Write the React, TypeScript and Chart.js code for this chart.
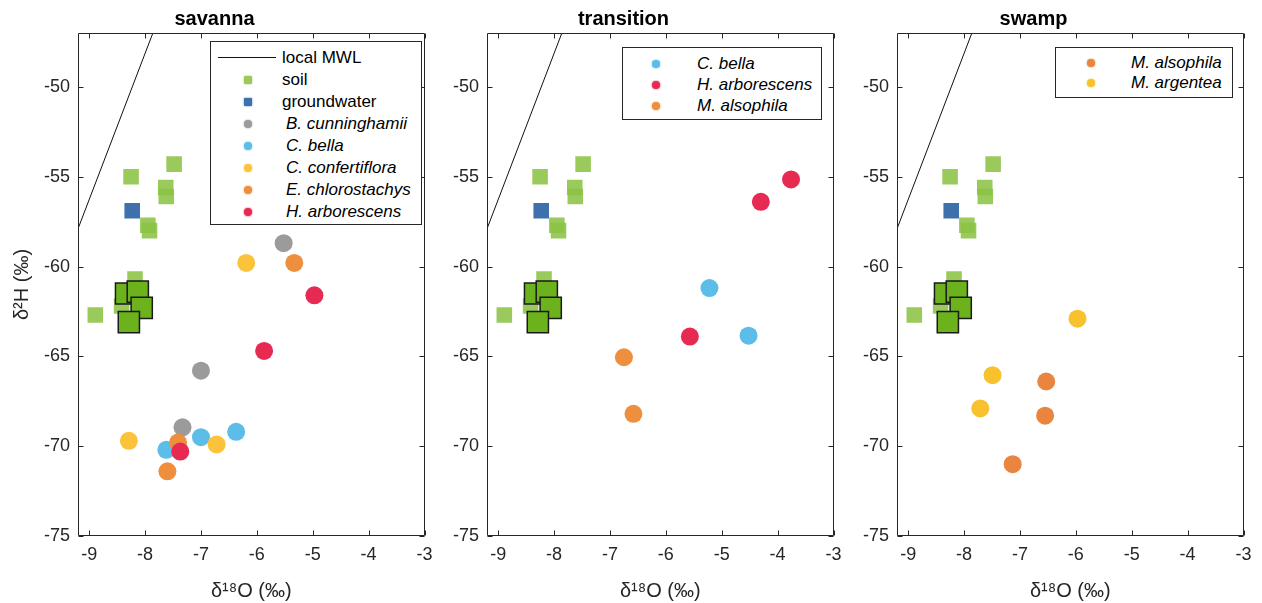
import React, { useEffect, useRef } from "react";
import { Chart, registerables } from "chart.js";

Chart.register(...registerables);

// ---------- axes ----------
const X_MIN = -9.2;
const X_MAX = -3;
const Y_MIN = -75;
const Y_MAX = -47;
const xTicks = [-9, -8, -7, -6, -5, -4, -3];
const yTicks = [-75, -70, -65, -60, -55, -50];

// ---------- local meteoric water line ----------
const mwlX = [-9.2, -7.86];
const mwlY = [-57.9, -47];

// ---------- shared soil / groundwater ----------
const soilX = [-8.25, -7.48, -7.63, -7.62, -7.95, -7.92, -8.18, -8.89, -8.42];
const soilY = [-55.0, -54.3, -55.6, -56.1, -57.7, -58.0, -60.7, -62.7, -62.2];
const soilDeepX = [-8.34, -8.13, -8.06, -8.29];
const soilDeepY = [-61.5, -61.4, -62.3, -63.1];
const gwX = [-8.23];
const gwY = [-56.9];

// ---------- savanna ----------
const savBcX = [-5.52, -7.0, -7.33];
const savBcY = [-58.7, -65.8, -68.95];
const savCbX = [-7.0, -6.37, -7.62];
const savCbY = [-69.5, -69.2, -70.2];
const savCcX = [-6.19, -8.29, -6.72];
const savCcY = [-59.8, -69.7, -69.9];
const savEcX = [-5.33, -7.6, -7.41];
const savEcY = [-59.8, -71.4, -69.8];
const savHaX = [-4.97, -5.87, -7.37];
const savHaY = [-61.6, -64.7, -70.3];

// ---------- transition ----------
const traCbX = [-5.22, -4.52];
const traCbY = [-61.2, -63.85];
const traHaX = [-5.57, -4.3, -3.76];
const traHaY = [-63.9, -56.4, -55.15];
const traMaX = [-6.75, -6.58];
const traMaY = [-65.05, -68.2];

// ---------- swamp ----------
const swaMaX = [-6.53, -6.55, -7.13];
const swaMaY = [-66.4, -68.3, -71.0];
const swaMgX = [-5.97, -7.49, -7.71];
const swaMgY = [-62.9, -66.05, -67.9];

// ---------- colours ----------
const C_SOIL = "rgba(140,195,70,0.88)";
const C_SOIL_DEEP = "#6cb21d";
const C_GW = "#3e70ab";
const C_GRAY = "#9b9b9b";
const C_BLUE = "#5cbde8";
const C_YELLOW = "#fbc33c";
const C_ORANGE = "#ee8f3e";
const C_RED = "#e72a52";
const C_ORANGE3 = "#e9853f";
const C_YELLOW3 = "#f8c22f";

const FONT = "'Liberation Sans', Arial, Helvetica, sans-serif";
const AXIS = "#262626";

const PLOT_W = 351;
const Y_AXIS_W = 78;
const RIGHT_PAD = 12;
const H = 603;

type Series = {
  xs: number[];
  ys: number[];
  color: string;
  style: "circle" | "rect";
  radius: number;
  border?: string;
};

const pts = (xs: number[], ys: number[]) => xs.map((x, i) => ({ x, y: ys[i] }));

const boxPlugin = {
  id: "matlabBox",
  afterDatasetsDraw(chart: any) {
    const { ctx, chartArea: a, scales } = chart;
    ctx.save();
    ctx.strokeStyle = AXIS;
    ctx.lineWidth = 1;
    const l = Math.round(a.left) + 0.5;
    const r = Math.round(a.right) - 0.5;
    const t = Math.round(a.top) + 0.5;
    const b = Math.round(a.bottom) - 0.5;
    ctx.beginPath();
    ctx.rect(l, t, r - l, b - t);
    const tl = 5;
    xTicks.forEach((v) => {
      const px = Math.round(scales.x.getPixelForValue(v)) + 0.5;
      ctx.moveTo(px, b);
      ctx.lineTo(px, b - tl);
      ctx.moveTo(px, t);
      ctx.lineTo(px, t + tl);
    });
    yTicks.forEach((v) => {
      const py = Math.round(scales.y.getPixelForValue(v)) + 0.5;
      ctx.moveTo(l, py);
      ctx.lineTo(l + tl, py);
      ctx.moveTo(r, py);
      ctx.lineTo(r - tl, py);
    });
    ctx.stroke();
    ctx.restore();
  },
};

type LegendItem = { label: string; color?: string; kind: "line" | "circle" | "rect"; italic: boolean };

type PanelProps = {
  plotLeft: number;
  title: string;
  series: Series[];
  yTitle: boolean;
};

function Panel({ plotLeft, title, series, yTitle }: PanelProps) {
  const ref = useRef<HTMLCanvasElement | null>(null);
  const width = Y_AXIS_W + PLOT_W + RIGHT_PAD;
  useEffect(() => {
    if (!ref.current) return;
    const datasets: any[] = [
      {
        type: "line",
        data: pts(mwlX, mwlY),
        borderColor: "#111",
        borderWidth: 1,
        pointRadius: 0,
        fill: false,
        order: 1000,
      },
    ];
    series.forEach((s, i) => {
      datasets.push({
        type: "scatter",
        data: pts(s.xs, s.ys),
        backgroundColor: s.color,
        borderColor: s.border || s.color,
        borderWidth: s.border ? 1.5 : 0,
        pointStyle: s.style,
        pointRadius: s.radius,
        pointHoverRadius: s.radius,
        order: 900 - i,
      });
    });
    const tickFont = { family: FONT, size: 18 };
    const chart = new Chart(ref.current, {
      type: "scatter",
      data: { datasets },
      plugins: [boxPlugin],
      options: {
        animation: false,
        responsive: false,
        devicePixelRatio: 1,
        layout: { padding: { left: 0, right: RIGHT_PAD, top: 0, bottom: 0 } },
        plugins: {
          legend: { display: false },
          tooltip: { enabled: false },
          title: {
            display: true,
            text: title,
            color: "#000",
            font: { family: FONT, size: 20, weight: "bold" },
            padding: { top: 7, bottom: 2 },
          },
        },
        scales: {
          x: {
            type: "linear",
            min: X_MIN,
            max: X_MAX,
            afterBuildTicks: (s: any) => {
              s.ticks = xTicks.map((v) => ({ value: v }));
            },
            afterFit: (s: any) => {
              s.height = 67;
            },
            grid: { display: false, drawTicks: false },
            border: { display: false },
            ticks: { padding: 8, color: AXIS, font: tickFont, maxRotation: 0, autoSkip: false },
            title: {
              display: true,
              text: "δ¹⁸O (‰)",
              color: AXIS,
              font: { family: FONT, size: 20 },
              padding: { top: 0, bottom: 0 },
            },
          },
          y: {
            type: "linear",
            min: Y_MIN,
            max: Y_MAX,
            afterBuildTicks: (s: any) => {
              s.ticks = yTicks.map((v) => ({ value: v }));
            },
            afterFit: (s: any) => {
              s.width = Y_AXIS_W;
            },
            grid: { display: false, drawTicks: false },
            border: { display: false },
            ticks: { padding: 8, color: AXIS, font: tickFont, autoSkip: false },
            title: {
              display: yTitle,
              text: "δ²H (‰)",
              color: AXIS,
              font: { family: FONT, size: 20 },
              padding: { top: 10, bottom: 0 },
            },
          },
        },
      } as any,
    });
    return () => chart.destroy();
  }, []);
  return (
    <canvas
      ref={ref}
      width={width}
      height={H}
      style={{ position: "absolute", left: plotLeft - Y_AXIS_W, top: 0, width, height: H }}
    />
  );
}

type LegendProps = {
  left: number;
  top: number;
  width: number;
  height: number;
  padTop: number;
  rowH: number;
  markerX: number;
  textX: number;
  items: LegendItem[];
};

function Legend({ left, top, width, height, padTop, rowH, markerX, textX, items }: LegendProps) {
  return (
    <div
      style={{
        position: "absolute",
        left,
        top,
        width,
        height,
        border: `1px solid ${AXIS}`,
        background: "#fff",
        boxSizing: "border-box",
        fontFamily: FONT,
        fontSize: 17,
        color: "#000",
      }}
    >
      {items.map((it, i) => {
        const cy = padTop + i * rowH + rowH / 2;
        return (
          <React.Fragment key={i}>
            {it.kind === "line" ? (
              <div
                style={{
                  position: "absolute",
                  left: markerX - 30,
                  width: 58,
                  top: cy - 1,
                  height: 0,
                  borderTop: "1px solid #111",
                }}
              />
            ) : (
              <div
                style={{
                  position: "absolute",
                  left: markerX - 4,
                  top: cy - 4,
                  width: 8,
                  height: 8,
                  borderRadius: it.kind === "circle" ? "50%" : 1,
                  background: it.color,
                  boxShadow: `0 0 2px ${it.color}`,
                }}
              />
            )}
            <div
              style={{
                position: "absolute",
                left: textX + (it.italic ? 4 : 0),
                top: cy - rowH / 2,
                height: rowH,
                lineHeight: `${rowH}px`,
                fontStyle: it.italic ? "italic" : "normal",
                whiteSpace: "nowrap",
              }}
            >
              {it.label}
            </div>
          </React.Fragment>
        );
      })}
    </div>
  );
}

const soilSeries: Series[] = [
  { xs: soilX, ys: soilY, color: C_SOIL, style: "rect", radius: 11 },
  { xs: gwX, ys: gwY, color: C_GW, style: "rect", radius: 11 },
];
const soilDeepSeries: Series = {
  xs: soilDeepX,
  ys: soilDeepY,
  color: C_SOIL_DEEP,
  style: "rect",
  radius: 15,
  border: "#1a1a1a",
};

const savannaSeries: Series[] = [
  ...soilSeries,
  { xs: savBcX, ys: savBcY, color: C_GRAY, style: "circle", radius: 9 },
  { xs: savCbX, ys: savCbY, color: C_BLUE, style: "circle", radius: 9 },
  { xs: savCcX, ys: savCcY, color: C_YELLOW, style: "circle", radius: 9 },
  { xs: savEcX, ys: savEcY, color: C_ORANGE, style: "circle", radius: 9 },
  { xs: savHaX, ys: savHaY, color: C_RED, style: "circle", radius: 9 },
  soilDeepSeries,
];
const transitionSeries: Series[] = [
  ...soilSeries,
  { xs: traCbX, ys: traCbY, color: C_BLUE, style: "circle", radius: 9 },
  { xs: traHaX, ys: traHaY, color: C_RED, style: "circle", radius: 9 },
  { xs: traMaX, ys: traMaY, color: C_ORANGE, style: "circle", radius: 9 },
  soilDeepSeries,
];
const swampSeries: Series[] = [
  ...soilSeries,
  { xs: swaMaX, ys: swaMaY, color: C_ORANGE3, style: "circle", radius: 9 },
  { xs: swaMgX, ys: swaMgY, color: C_YELLOW3, style: "circle", radius: 9 },
  soilDeepSeries,
];

const savLegend: LegendItem[] = [
  { label: "local MWL", kind: "line", italic: false },
  { label: "soil", color: C_SOIL, kind: "rect", italic: false },
  { label: "groundwater", color: C_GW, kind: "rect", italic: false },
  { label: "B. cunninghamii", color: C_GRAY, kind: "circle", italic: true },
  { label: "C. bella", color: C_BLUE, kind: "circle", italic: true },
  { label: "C. confertiflora", color: C_YELLOW, kind: "circle", italic: true },
  { label: "E. chlorostachys", color: C_ORANGE, kind: "circle", italic: true },
  { label: "H. arborescens", color: C_RED, kind: "circle", italic: true },
];
const traLegend: LegendItem[] = [
  { label: "C. bella", color: C_BLUE, kind: "circle", italic: true },
  { label: "H. arborescens", color: C_RED, kind: "circle", italic: true },
  { label: "M. alsophila", color: C_ORANGE, kind: "circle", italic: true },
];
const swaLegend: LegendItem[] = [
  { label: "M. alsophila", color: C_ORANGE3, kind: "circle", italic: true },
  { label: "M. argentea", color: C_YELLOW3, kind: "circle", italic: true },
];

export default function App() {
  return (
    <div
      style={{
        position: "absolute",
        left: 0,
        top: 0,
        width: 1262,
        height: 603,
        background: "#fff",
        overflow: "hidden",
      }}
    >
      <Panel plotLeft={78} title="savanna" series={savannaSeries} yTitle={true} />
      <Panel plotLeft={487} title="transition" series={transitionSeries} yTitle={false} />
      <Panel plotLeft={897} title="swamp" series={swampSeries} yTitle={false} />
      <Legend
        left={210}
        top={41}
        width={212}
        height={184}
        padTop={5}
        rowH={22}
        markerX={37}
        textX={71}
        items={savLegend}
      />
      <Legend
        left={622}
        top={47}
        width={200}
        height={73}
        padTop={5}
        rowH={21}
        markerX={33}
        textX={70}
        items={traLegend}
      />
      <Legend
        left={1055}
        top={47}
        width={178}
        height={51}
        padTop={5}
        rowH={20}
        markerX={35}
        textX={71}
        items={swaLegend}
      />
    </div>
  );
}
